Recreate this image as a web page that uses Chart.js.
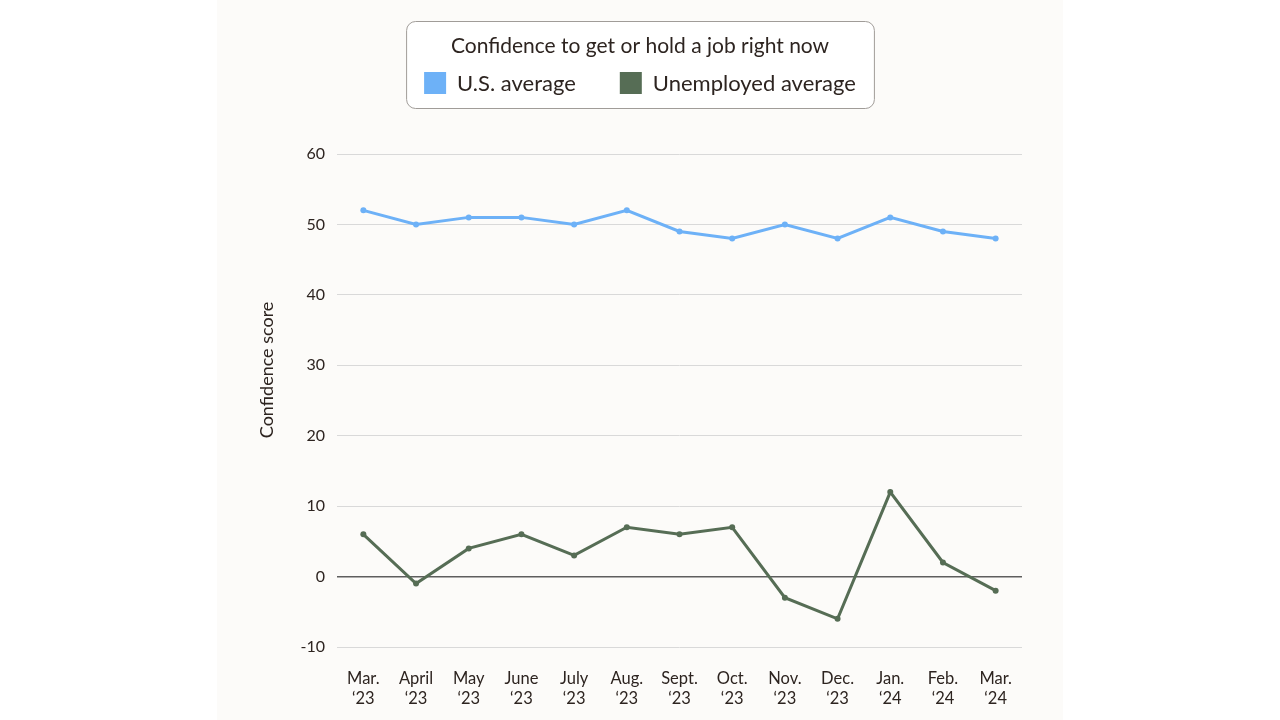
<!DOCTYPE html>
<html>
<head>
<meta charset="utf-8">
<script src="https://cdn.jsdelivr.net/npm/chart.js@4/dist/chart.umd.min.js"></script>
<style>
  html, body { margin: 0; padding: 0; background: #ffffff; width: 1280px; height: 720px; overflow: hidden; }
  #panel { position: absolute; left: 217px; top: 0; width: 846px; height: 720px; background: #fcfbf9; }
  #panel canvas { display: block; }
</style>
</head>
<body>
<div id="panel"><canvas id="c" width="846" height="720"></canvas></div>
<script>
const categories = [
  ["Mar.", "\u201823"], ["April", "\u201823"], ["May", "\u201823"], ["June", "\u201823"],
  ["July", "\u201823"], ["Aug.", "\u201823"], ["Sept.", "\u201823"], ["Oct.", "\u201823"],
  ["Nov.", "\u201823"], ["Dec.", "\u201823"], ["Jan.", "\u201824"], ["Feb.", "\u201824"], ["Mar.", "\u201824"]
];
const usAverage = [52, 50, 51, 51, 50, 52, 49, 48, 50, 48, 51, 49, 48];
const unemployedAverage = [6, -1, 4, 6, 3, 7, 6, 7, -3, -6, 12, 2, -2];
const seriesNames = ["U.S. average", "Unemployed average"];
const legendTitle = "Confidence to get or hold a job right now";
const yAxisTitle = "Confidence score";
const yMin = -10, yMax = 60, yStep = 10;

const FONT = "Lato, 'Open Sans', sans-serif";
const TEXT = "#2d2420";
const BLUE = "#6db1f7";
const GREEN = "#566d55";

const legendPlugin = {
  id: 'boxedLegend',
  afterDraw(chart) {
    const ctx = chart.ctx;
    const cx = chart.width / 2;
    ctx.save();
    ctx.font = "22px " + FONT;
    const sq = 22, gapBoxText = 11, gapItems = 44;
    const items = chart.data.datasets.map(d => ({ text: d.label, color: d.borderColor, w: ctx.measureText(d.label).width }));
    let rowW = 0;
    items.forEach((it, i) => { rowW += sq + gapBoxText + it.w + (i < items.length - 1 ? gapItems : 0); });
    ctx.font = "21px " + FONT;
    const titleW = ctx.measureText(legendTitle).width;
    const innerW = Math.max(rowW, titleW);
    const boxW = innerW + 36;
    const boxX = cx - boxW / 2, boxY = 21, boxH = 87;
    ctx.beginPath();
    ctx.roundRect(boxX + 0.5, boxY + 0.5, boxW, boxH, 9);
    ctx.fillStyle = "#ffffff";
    ctx.fill();
    ctx.strokeStyle = "#a09c98";
    ctx.lineWidth = 1;
    ctx.stroke();
    ctx.fillStyle = TEXT;
    ctx.textAlign = "center";
    ctx.textBaseline = "middle";
    ctx.fillText(legendTitle, cx, 46);
    ctx.font = "22px " + FONT;
    let x = cx - rowW / 2;
    const rowY = 83;
    ctx.textAlign = "left";
    items.forEach(it => {
      ctx.fillStyle = it.color;
      ctx.fillRect(x, rowY - sq / 2, sq, sq);
      x += sq + gapBoxText;
      ctx.fillStyle = TEXT;
      ctx.fillText(it.text, x, rowY + 1);
      x += it.w + gapItems;
    });
    ctx.restore();
  }
};

const yTitlePlugin = {
  id: 'yTitle',
  afterDraw(chart) {
    const ctx = chart.ctx;
    const a = chart.chartArea;
    ctx.save();
    ctx.font = "18px " + FONT;
    ctx.fillStyle = TEXT;
    ctx.textAlign = "center";
    ctx.textBaseline = "middle";
    ctx.translate(a.left - 70, a.top + (a.bottom - a.top) * 0.438);
    ctx.rotate(-Math.PI / 2);
    ctx.fillText(yAxisTitle, 0, 0);
    ctx.restore();
  }
};

new Chart(document.getElementById('c'), {
  type: 'line',
  data: {
    labels: categories,
    datasets: [
      { label: seriesNames[0], data: usAverage, borderColor: BLUE, backgroundColor: BLUE,
        borderWidth: 3, pointRadius: 3, pointBackgroundColor: BLUE, pointBorderWidth: 0, tension: 0 },
      { label: seriesNames[1], data: unemployedAverage, borderColor: GREEN, backgroundColor: GREEN,
        borderWidth: 3, pointRadius: 3, pointBackgroundColor: GREEN, pointBorderWidth: 0, tension: 0 }
    ]
  },
  options: {
    responsive: false,
    animation: false,
    devicePixelRatio: 1,
    layout: { padding: { top: 154, right: 41, bottom: 0, left: 0 } },
    plugins: { legend: { display: false }, tooltip: { enabled: false }, title: { display: false } },
    scales: {
      x: {
        offset: true,
        grid: { display: false },
        border: { display: false },
        ticks: { color: TEXT, font: { family: FONT, size: 16.5, lineHeight: 1.25 }, padding: 13, maxRotation: 0, autoSkip: false },
        afterFit(s) { s.height = 73; }
      },
      y: {
        min: yMin, max: yMax,
        border: { display: false },
        grid: {
          drawTicks: false,
          color: c => (c.tick && c.tick.value === 0) ? "#5e5e5e" : "#d9d9d9",
          lineWidth: c => (c.tick && c.tick.value === 0) ? 1.5 : 1
        },
        ticks: { stepSize: yStep, color: TEXT, font: { family: FONT, size: 16 }, padding: 12 },
        afterFit(s) { s.width = 120; }
      }
    }
  },
  plugins: [legendPlugin, yTitlePlugin]
});
</script>
</body>
</html>
